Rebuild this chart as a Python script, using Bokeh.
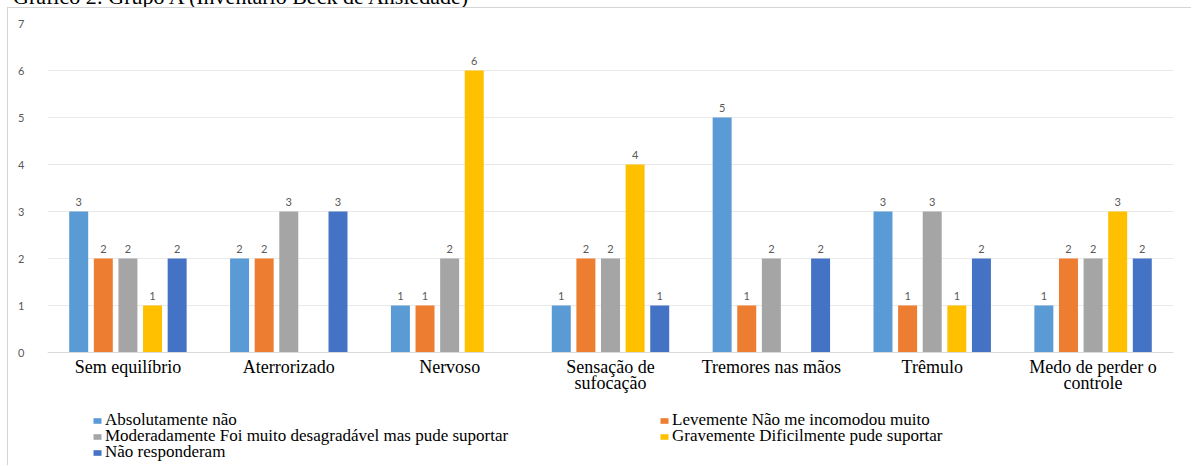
from bokeh.plotting import figure
from bokeh.models import (ColumnDataSource, FactorRange, FixedTicker, Legend,
                          LegendItem, Div, Column, Range1d)
from bokeh.transform import dodge
from bokeh.core.properties import value
from bokeh.embed import file_html
from bokeh.resources import INLINE

# Beck Anxiety Inventory, group A: number of answers per symptom and intensity
categories = [
    "Sem equilíbrio",
    "Aterrorizado",
    "Nervoso",
    "Sensação de\nsufocação",
    "Tremores nas mãos",
    "Trêmulo",
    "Medo de perder o\ncontrole",
]
series_names = [
    "Absolutamente não",
    "Levemente Não me incomodou muito",
    "Moderadamente Foi muito desagradável mas pude suportar",
    "Gravemente Dificilmente pude suportar",
    "Não responderam",
]
absolutamente = [3, 2, 1, 1, 5, 3, 1]
levemente = [2, 2, 1, 2, 1, 1, 2]
moderadamente = [2, 3, 2, 2, 2, 3, 2]
gravemente = [1, 0, 6, 4, 0, 1, 3]
nao_responderam = [2, 3, 0, 1, 2, 2, 2]
y_ticks = [0, 1, 2, 3, 4, 5, 6, 7]
title_text = "Gráfico 2: Grupo A (Inventário Beck de Ansiedade)"

series_values = [absolutamente, levemente, moderadamente, gravemente, nao_responderam]
colors = ["#5B9BD5", "#ED7D31", "#A5A5A5", "#FFC000", "#4472C4"]
offsets = [-0.306, -0.153, 0.0, 0.153, 0.306]

serif = "Liberation Serif"
sans = "Lato"

# the plot frame runs down to the bottom of the page so the legend fits inside it;
# the value axis spans 0..7 in the upper part, the category axis sits at y = 0
FRAME_H = 443
PX_PER_UNIT = 47
y_bottom = 7 - FRAME_H / PX_PER_UNIT

p = figure(
    x_range=FactorRange(*categories, range_padding=0),
    y_range=Range1d(y_bottom, 7),
    width=1184, height=458,
    output_backend="svg", toolbar_location=None,
    min_border_left=39, min_border_right=19,
    min_border_top=15, min_border_bottom=0,
    margin=(0, 0, 0, 7),
    styles={"border-left": "1px solid #d4d4d4", "border-top": "1px solid #d4d4d4"},
)
p.outline_line_color = None
p.background_fill_color = "white"
p.border_fill_color = "white"

renderers = []
for name, vals, color, off in zip(series_names, series_values, colors, offsets):
    cats = [c for c, v in zip(categories, vals) if v > 0]
    nums = [v for v in vals if v > 0]
    src = ColumnDataSource(dict(cat=cats, val=nums, lbl=[str(v) for v in nums]))
    r = p.vbar(x=dodge("cat", off, range=p.x_range), top="val", width=0.118,
               source=src, fill_color=color, line_color=None)
    p.text(x=dodge("cat", off, range=p.x_range), y="val", text="lbl", source=src,
           text_align="center", text_baseline="bottom", y_offset=-6,
           text_font=value(sans), text_font_size="11px", text_color="#595959")
    renderers.append(r)

# axes
p.yaxis.ticker = FixedTicker(ticks=y_ticks)
p.yaxis.axis_line_color = None
p.yaxis.major_tick_line_color = None
p.yaxis.minor_tick_line_color = None
p.yaxis.major_label_standoff = 17
p.yaxis.major_label_text_font = sans
p.yaxis.major_label_text_font_size = "11px"
p.yaxis.major_label_text_color = "#595959"

p.xaxis.fixed_location = 0
p.xaxis.axis_line_color = "#d9d9d9"
p.xaxis.major_tick_line_color = None
p.xaxis.minor_tick_line_color = None
p.xaxis.major_label_standoff = -2
p.xaxis.major_label_text_font = serif
p.xaxis.major_label_text_font_size = "18px"
p.xaxis.major_label_text_color = "#000000"
p.xaxis.major_label_text_line_height = 0.8

p.xgrid.grid_line_color = None
p.ygrid.grid_line_color = "#e9e9e9"
p.ygrid.ticker = FixedTicker(ticks=y_ticks)

# legend: two columns under the chart, one entry per slot so rows sit close together
legend_style = dict(
    glyph_width=10, glyph_height=7, label_standoff=3, spacing=0,
    padding=0, margin=0,
    border_line_color=None, background_fill_alpha=0,
    label_text_font=serif, label_text_font_size="17px", label_text_color="#000000",
)
# (column x, row offset above the frame bottom) for each series entry
slots = [(45, 36), (612, 36), (45, 20), (612, 20), (45, 4)]
for name, r, loc in zip(series_names, renderers, slots):
    p.add_layout(Legend(items=[LegendItem(label=name, renderers=[r])],
                        location=loc, **legend_style), "center")

# caption line above the chart area (only its lower part shows)
title_div = Div(
    text=(f'<div style="position:relative; left:13px; top:-14px; white-space:nowrap; '
          f'font-family:\'{serif}\'; font-size:22px; line-height:22px; color:#000;">'
          f'{title_text}</div>'),
    width=1192, height=7, margin=0,
    styles={"overflow": "hidden"},
)

layout = Column(children=[title_div, p], spacing=0)

open("out.html", "w").write(file_html(layout, INLINE))
